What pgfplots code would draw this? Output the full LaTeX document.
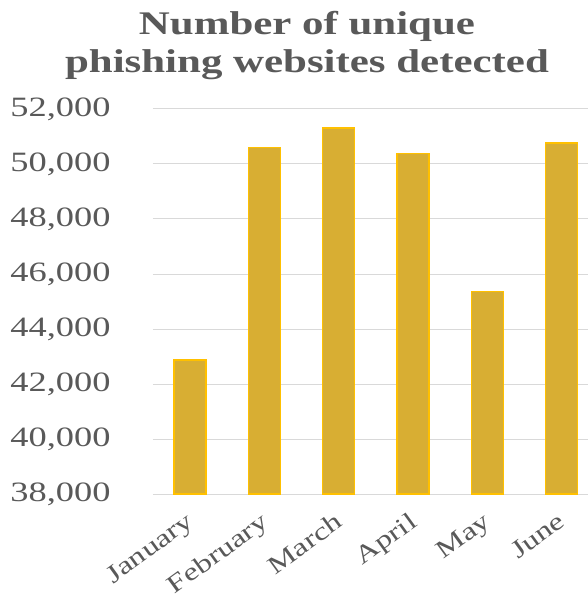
\documentclass[border=0pt]{standalone}
\usepackage{fontspec}
\setmainfont{Liberation Serif}[FakeStretch=1.3]
\usepackage{pgfplots}
\pgfplotsset{compat=1.18}
\definecolor{barfill}{HTML}{D8AE33}
\definecolor{baredge}{HTML}{FFC000}
\definecolor{gridc}{HTML}{D9D9D9}
\definecolor{textc}{HTML}{595959}
\begin{document}
\begin{tikzpicture}[x=1pt,y=1pt]
\begin{axis}[
  at={(0,0)}, anchor=south west,
  scale only axis, width=435pt, height=385pt,
  ymin=38000, ymax=52000, ytick={38000,40000,...,52000},
  xmin=-0.5, xmax=5.355,
  xtick={0,1,2,3,4,5},
  xticklabels={January,February,March,April,May,June},
  xticklabel style={rotate=36, anchor=north east, font=\fontsize{25}{26}\selectfont, text=textc, inner sep=0pt, yshift=-11pt, xshift=-14pt},
  yticklabel style={font=\fontsize{28}{32}\selectfont, text=textc, xshift=-39pt},
  /pgf/number format/assume math mode=true,
  /pgf/number format/1000 sep={,},
  scaled y ticks=false,
  ymajorgrids, grid style={gridc, line width=1pt},
  axis x line*=bottom, axis y line*=left,
  x axis line style={gridc, line width=1pt},
  y axis line style={draw=none},
  major tick length=0pt,
  ybar, bar width=32pt,
  clip=false,
]
\addplot[fill=barfill, draw=baredge, line width=1.5pt] coordinates {
  (0,42880) (1,50600) (2,51300) (3,50380) (4,45360) (5,50760)
};
\end{axis}
\node[text=textc, font=\fontsize{33}{38}\selectfont\bfseries, align=center, anchor=north] at (154pt,486pt) {Number of unique\\phishing websites detected};
\pgfresetboundingbox
\path[use as bounding box] (-153pt,-106pt) rectangle (435pt,494pt);
\end{tikzpicture}
\end{document}
